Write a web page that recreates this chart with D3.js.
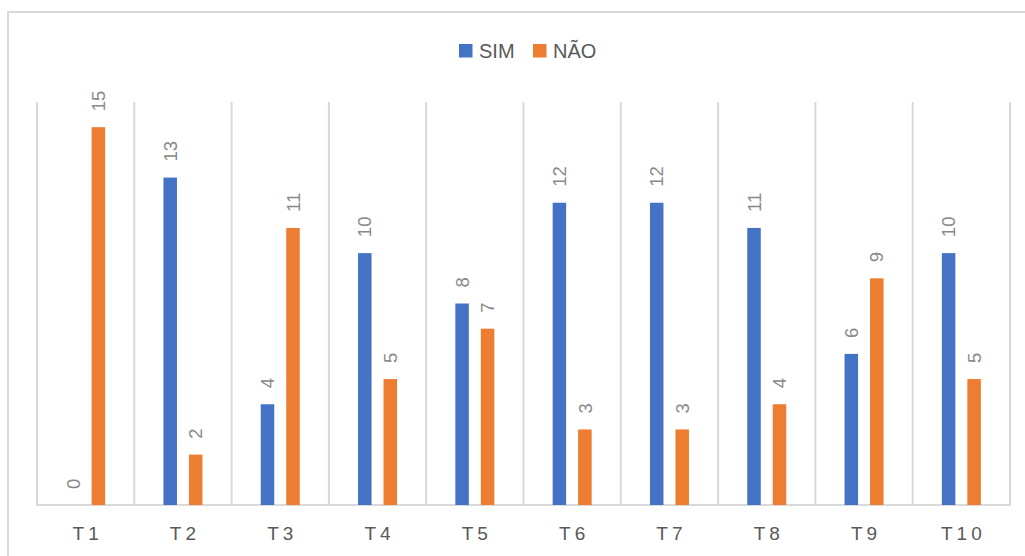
<!DOCTYPE html>
<html>
<head>
<meta charset="utf-8">
<script src="https://cdn.jsdelivr.net/npm/d3@7"></script>
<style>
  html, body { margin: 0; padding: 0; background: #fff; }
  svg { display: block; font-family: "Liberation Sans", Arial, sans-serif; }
</style>
</head>
<body>
<svg id="chart" width="1025" height="556"></svg>
<script>
// Category labels and series values
const categories = ["T1", "T2", "T3", "T4", "T5", "T6", "T7", "T8", "T9", "T10"];
const seriesNames = ["SIM", "NÃO"];
const simValues = [0, 13, 4, 10, 8, 12, 12, 11, 6, 10];
const naoValues = [15, 2, 11, 5, 7, 3, 3, 4, 9, 5];
const seriesColors = ["#4472C4", "#ED7D31"];

const series = [
  { name: seriesNames[0], values: simValues, color: seriesColors[0] },
  { name: seriesNames[1], values: naoValues, color: seriesColors[1] }
];

const svg = d3.select("#chart");
const plot = { left: 37, right: 1010, top: 102, bottom: 505 };

// Outer chart frame
svg.append("rect")
  .attr("x", 8).attr("y", 12)
  .attr("width", 1040).attr("height", 600)
  .attr("fill", "none")
  .attr("stroke", "#d9d9d9")
  .attr("stroke-width", 2);

const x = d3.scaleBand()
  .domain(categories)
  .range([plot.left, plot.right])
  .padding(0);

const y = d3.scaleLinear()
  .domain([0, 16])
  .range([plot.bottom, plot.top]);

// Bars of a category sit in a narrow cluster around its centre
const inner = d3.scaleBand()
  .domain(seriesNames)
  .range([x.bandwidth() / 2 - 19.5, x.bandwidth() / 2 + 19.5])
  .paddingInner(0.47);

// Vertical separators between categories
const bounds = categories.map(c => x(c)).concat([plot.right]);
svg.append("g")
  .selectAll("line")
  .data(bounds)
  .join("line")
  .attr("x1", d => d).attr("x2", d => d)
  .attr("y1", plot.top).attr("y2", plot.bottom)
  .attr("stroke", "#d9d9d9")
  .attr("stroke-width", 2);

// Baseline
svg.append("line")
  .attr("x1", plot.left - 1).attr("x2", plot.right + 1)
  .attr("y1", plot.bottom).attr("y2", plot.bottom)
  .attr("stroke", "#d9d9d9")
  .attr("stroke-width", 2);

// Bars
series.forEach(s => {
  const g = svg.append("g");
  g.selectAll("rect")
    .data(categories.map((c, i) => ({ c, v: s.values[i] })))
    .join("rect")
    .attr("x", d => x(d.c) + inner(s.name))
    .attr("width", inner.bandwidth())
    .attr("y", d => y(d.v))
    .attr("height", d => y(0) - y(d.v))
    .attr("fill", s.color);

  // Rotated value labels above each bar
  g.selectAll("text")
    .data(categories.map((c, i) => ({ c, v: s.values[i] })))
    .join("text")
    .attr("transform", d => {
      const cx = x(d.c) + inner(s.name) + inner.bandwidth() / 2;
      const cy = y(d.v) - 16;
      return `translate(${cx},${cy}) rotate(-90)`;
    })
    .attr("dy", "0.36em")
    .attr("text-anchor", "start")
    .attr("font-size", 18.5)
    .attr("fill", "#898989")
    .text(d => d.v);
});

// Category axis labels
svg.append("g")
  .selectAll("text")
  .data(categories)
  .join("text")
  .attr("x", d => x(d) + x.bandwidth() / 2 + 2)
  .attr("y", 540)
  .attr("text-anchor", "middle")
  .attr("font-size", 19)
  .attr("letter-spacing", 4)
  .attr("fill", "#595959")
  .text(d => d);

// Legend
const legend = svg.append("g");
const legendItems = [
  { name: seriesNames[0], color: seriesColors[0], x: 459 },
  { name: seriesNames[1], color: seriesColors[1], x: 533 }
];
legendItems.forEach(it => {
  legend.append("rect")
    .attr("x", it.x).attr("y", 44)
    .attr("width", 13.5).attr("height", 13.5)
    .attr("fill", it.color);
  legend.append("text")
    .attr("x", it.x + 20).attr("y", 58)
    .attr("font-size", 20)
    .attr("fill", "#595959")
    .text(it.name);
});
</script>
</body>
</html>
